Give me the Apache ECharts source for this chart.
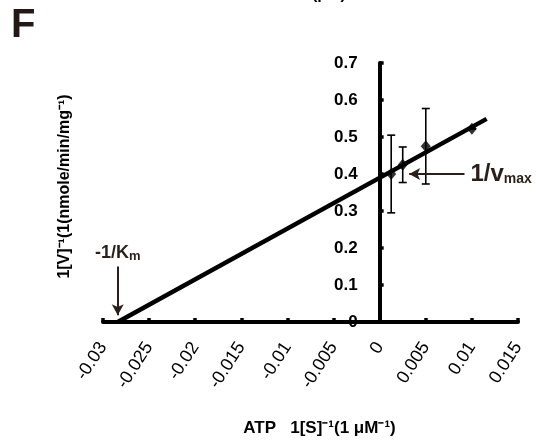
<!DOCTYPE html>
<html>
<head>
    <meta charset="utf-8">
    <script src="https://cdn.jsdelivr.net/npm/echarts@6/dist/echarts.min.js"></script>
    <style>
        html, body { margin: 0; padding: 0; background: #fff; }
    </style>
</head>
<body>
<div id="main" style="width: 538px;height:447px;"></div>

<script type="text/javascript">

    // x axis ticks: 1/[S]
    var xMin = -0.03, xMax = 0.015, xStep = 0.005;
    var yMin = 0, yMax = 0.7, yStep = 0.1;

    // measured points (1/[S], 1/v) and error bars
    var pointX = [0.00125, 0.0025, 0.005, 0.01];
    var pointY = [0.40, 0.425, 0.475, 0.522];
    var pointErr = [0.105, 0.048, 0.102, 0];

    // fitted line ends
    var fitX = [-0.0284, 0.0116];
    var fitY = [0, 0.549];

    // annotation arrows
    var kmArrowX = -0.0284, kmArrowY = [0.15, 0.018];
    var vmaxArrowX = [0.0092, 0.0032], vmaxArrowY = 0.40;

    var FONT = '"Liberation Sans", Arial, sans-serif';
    var INK = '#2b1f1a';

    var gridLeft = 103, gridRight = 20;
    var plotW = 538 - gridLeft - gridRight;
    // y axis sits on x = 0, labels included
    var yAxisShift = plotW * (0 - xMin) / (xMax - xMin);

    var scatterData = [], errData = [], fitData = [];
    for (var i = 0; i < pointX.length; i++) {
        scatterData.push([pointX[i], pointY[i]]);
        errData.push([pointX[i], pointY[i] - pointErr[i], pointY[i] + pointErr[i]]);
    }
    for (var i = 0; i < fitX.length; i++) {
        fitData.push([fitX[i], fitY[i]]);
    }

    function tidy(v) {
        return String(+v.toFixed(3));
    }

    var myChart = echarts.init(document.getElementById('main'));

    var option = {
        animation: false,
        backgroundColor: '#fff',
        grid: { left: gridLeft, right: gridRight, top: 63, bottom: 125, containLabel: false, outerBoundsMode: 'none' },
        graphic: [
            {
                type: 'text', left: 11, top: 6,
                style: { text: 'F', font: 'bold 40px ' + FONT, fill: '#231815' }
            },
            {
                type: 'text', left: 312, top: -13,
                style: { text: '(μM)', font: 'bold 16px ' + FONT, fill: '#000' }
            }
        ],
        xAxis: {
            type: 'value',
            min: xMin, max: xMax, interval: xStep,
            name: 'ATP   1[S]⁻¹(1 μM⁻¹)',
            nameLocation: 'middle',
            nameGap: 98,
            nameTextStyle: { fontFamily: FONT, fontWeight: 'bold', fontSize: 17, color: '#000', padding: [0, 0, 0, 18] },
            axisLine: { onZero: true, lineStyle: { color: '#000', width: 4, cap: 'round' } },
            axisTick: { inside: true, length: 4, lineStyle: { color: '#000', width: 3.5 } },
            axisLabel: {
                rotate: 57, margin: 22,
                fontFamily: FONT, fontSize: 18, color: '#000',
                formatter: tidy
            },
            splitLine: { show: false }
        },
        yAxis: {
            type: 'value',
            min: yMin, max: yMax, interval: yStep,
            offset: -yAxisShift,
            name: '1[V]⁻¹(1(nmole/min/mg⁻¹)',
            nameLocation: 'middle',
            nameRotate: 90,
            nameGap: 307,
            nameTextStyle: { fontFamily: FONT, fontWeight: 'bold', fontSize: 16, color: '#000', padding: [0, 0, 0, 12] },
            axisLine: { onZero: false, lineStyle: { color: '#000', width: 4, cap: 'round' } },
            axisTick: { inside: true, length: 4, lineStyle: { color: '#000', width: 3.5 } },
            axisLabel: {
                margin: 22,
                fontFamily: FONT, fontSize: 17, fontWeight: 'bold', color: '#000',
                formatter: tidy
            },
            splitLine: { show: false }
        },
        series: [
            {
                // error bars
                type: 'custom',
                data: errData,
                renderItem: function (params, api) {
                    var x = api.value(0);
                    var lo = api.coord([x, api.value(1)]);
                    var hi = api.coord([x, api.value(2)]);
                    var s = { stroke: '#000', lineWidth: 1.6 };
                    return {
                        type: 'group',
                        children: [
                            { type: 'line', shape: { x1: hi[0], y1: hi[1], x2: lo[0], y2: lo[1] }, style: s },
                            { type: 'line', shape: { x1: hi[0] - 4, y1: hi[1], x2: hi[0] + 4, y2: hi[1] }, style: s },
                            { type: 'line', shape: { x1: lo[0] - 4, y1: lo[1], x2: lo[0] + 4, y2: lo[1] }, style: s }
                        ]
                    };
                },
                z: 2
            },
            {
                // fitted line + annotations
                type: 'line',
                data: fitData,
                symbol: 'none',
                lineStyle: { color: '#000', width: 4.5 },
                z: 3,
                markLine: {
                    silent: true,
                    symbol: ['none', 'arrow'],
                    symbolSize: [9, 11],
                    lineStyle: { color: INK, width: 2, type: 'solid' },
                    data: [
                        [
                            {
                                coord: [kmArrowX, kmArrowY[0]],
                                label: {
                                    show: true, position: 'start', distance: 4,
                                    formatter: '{a|-1/K}{b|m}',
                                    rich: {
                                        a: { fontFamily: FONT, fontWeight: 'bold', fontSize: 18, color: INK },
                                        b: { fontFamily: FONT, fontWeight: 'bold', fontSize: 13, color: INK, verticalAlign: 'bottom' }
                                    }
                                }
                            },
                            { coord: [kmArrowX, kmArrowY[1]] }
                        ],
                        [
                            {
                                coord: [vmaxArrowX[0], vmaxArrowY],
                                label: {
                                    show: true, position: 'start', distance: 6,
                                    formatter: '{a|1/v}{b|max}',
                                    rich: {
                                        a: { fontFamily: FONT, fontWeight: 'bold', fontSize: 24, color: INK },
                                        b: { fontFamily: FONT, fontWeight: 'bold', fontSize: 14, color: INK, verticalAlign: 'bottom' }
                                    }
                                }
                            },
                            { coord: [vmaxArrowX[1], vmaxArrowY] }
                        ]
                    ]
                }
            },
            {
                type: 'scatter',
                data: scatterData,
                symbol: 'diamond',
                symbolSize: [10, 12],
                itemStyle: { color: '#000' },
                z: 4
            }
        ]
    };
    myChart.setOption(option);

</script>
</body>
</html>
